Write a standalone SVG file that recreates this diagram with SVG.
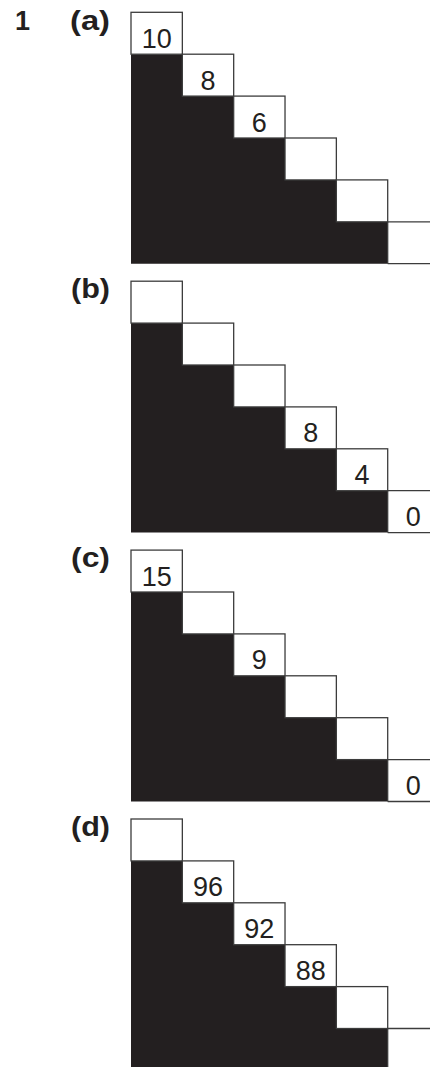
<svg xmlns="http://www.w3.org/2000/svg" xmlns:xlink="http://www.w3.org/1999/xlink" width="430" height="1067" viewBox="0 0 430 1067">
<style>
  .blk { fill: #231f20; }
  .box { fill: #ffffff; stroke: #3c3c3c; stroke-width: 1.3; }
  .ln { fill: none; stroke: #3c3c3c; stroke-width: 1.3; }
  .num { font-family: "Liberation Sans", Arial, sans-serif; font-size: 27px; fill: #231f20; text-anchor: middle; }
  .lab { font-family: "Liberation Sans", Arial, sans-serif; font-size: 27px; font-weight: bold; fill: #231f20; }
</style>
<defs>
  <g id="stair">
    <polygon class="blk" points="131,41.9 182.34,41.9 182.34,83.8 233.68,83.8 233.68,125.7 285.02,125.7 285.02,167.6 336.36,167.6 336.36,209.5 387.7,209.5 387.7,251.4 131,251.4"/>
    <rect class="box" x="131" y="0" width="51.34" height="41.9"/>
    <rect class="box" x="182.34" y="41.9" width="51.34" height="41.9"/>
    <rect class="box" x="233.68" y="83.8" width="51.34" height="41.9"/>
    <rect class="box" x="285.02" y="125.7" width="51.34" height="41.9"/>
    <rect class="box" x="336.36" y="167.6" width="51.34" height="41.9"/>
    <path class="ln" d="M387.7,209.5 H431 M387.7,251.4 H431 M387.7,209.5 V251.4"/>
  </g>
</defs>
<text class="lab" x="15" y="29.5">1</text>
<g id="panel-a">
  <text class="lab" x="70" y="29.5" textLength="40" lengthAdjust="spacingAndGlyphs">(a)</text>
  <use xlink:href="#stair" href="#stair" transform="translate(0,12.3)"/>
  <text class="num" x="156.67" y="47.7">10</text>
  <text class="num" x="208.01" y="89.6">8</text>
  <text class="num" x="259.35" y="131.5">6</text>
</g>
<g id="panel-b">
  <text class="lab" x="71" y="298.4" textLength="39" lengthAdjust="spacingAndGlyphs">(b)</text>
  <use xlink:href="#stair" href="#stair" transform="translate(0,281.2)"/>
  <text class="num" x="310.69" y="442.3">8</text>
  <text class="num" x="362.03" y="484.2">4</text>
  <text class="num" x="413.37" y="526.1">0</text>
</g>
<g id="panel-c">
  <text class="lab" x="71" y="567.3" textLength="39" lengthAdjust="spacingAndGlyphs">(c)</text>
  <use xlink:href="#stair" href="#stair" transform="translate(0,550.1)"/>
  <text class="num" x="156.67" y="585.5">15</text>
  <text class="num" x="259.35" y="669.3">9</text>
  <text class="num" x="413.37" y="795">0</text>
</g>
<g id="panel-d">
  <text class="lab" x="71" y="836.2" textLength="39" lengthAdjust="spacingAndGlyphs">(d)</text>
  <use xlink:href="#stair" href="#stair" transform="translate(0,819)"/>
  <text class="num" x="208.01" y="896.3">96</text>
  <text class="num" x="259.35" y="938.2">92</text>
  <text class="num" x="310.69" y="980.1">88</text>
</g>
<g id="connectors"/>
</svg>
